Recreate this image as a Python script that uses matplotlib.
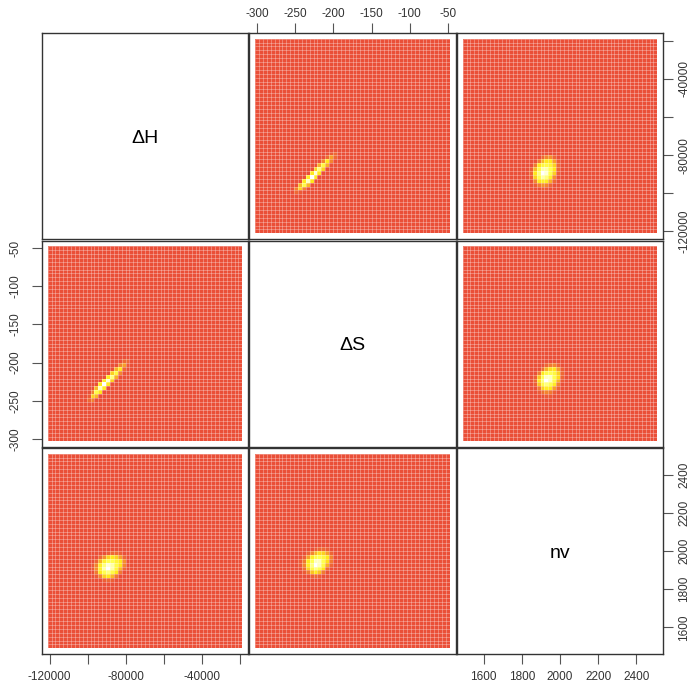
import numpy as np
import matplotlib.pyplot as plt
from matplotlib.colors import LinearSegmentedColormap

plt.rcParams['font.family'] = ['Liberation Sans', 'DejaVu Sans']

names = ['ΔH', 'ΔS', 'nv']
ranges = [[-120000, -20000], [-300, -50], [1500, 2500]]
n_cells = 50

ticks = [[-120000, -100000, -80000, -60000, -40000, -20000],
         [-300, -250, -200, -150, -100, -50],
         [1600, 1800, 2000, 2200, 2400]]
tick_labels = [['-120000', '', '-80000', '', '-40000', ''],
               ['-300', '-250', '-200', '-150', '-100', '-50'],
               ['1600', '1800', '2000', '2200', '2400']]

# density blobs, rows listed from top to bottom
blob_dS_dH = [
    [0, 0, 0, 0, 0, 0, 0, 0, 0, 0.02, 0.05],
    [0, 0, 0, 0, 0, 0, 0, 0, 0.05, 0.15, 0.05],
    [0, 0, 0, 0, 0, 0, 0, 0.1, 0.3, 0.1, 0],
    [0, 0, 0, 0, 0, 0, 0.18, 0.5, 0.18, 0, 0],
    [0, 0, 0, 0, 0, 0.25, 0.7, 0.25, 0, 0, 0],
    [0, 0, 0, 0, 0.32, 0.9, 0.32, 0, 0, 0, 0],
    [0, 0, 0, 0.35, 1.0, 0.35, 0, 0, 0, 0, 0],
    [0, 0, 0.3, 0.85, 0.3, 0, 0, 0, 0, 0, 0],
    [0, 0.2, 0.55, 0.2, 0, 0, 0, 0, 0, 0, 0],
    [0.09, 0.25, 0.09, 0, 0, 0, 0, 0, 0, 0, 0],
    [0.05, 0.02, 0, 0, 0, 0, 0, 0, 0, 0, 0],
]
blob_nv_dH = [
    [0, 0, 0, 0.05, 0.1, 0.12, 0.05, 0, 0],
    [0, 0, 0.08, 0.2, 0.3, 0.3, 0.15, 0.03, 0],
    [0, 0.08, 0.3, 0.5, 0.55, 0.45, 0.25, 0.05, 0],
    [0.03, 0.2, 0.55, 0.8, 0.8, 0.6, 0.3, 0.05, 0],
    [0.05, 0.3, 0.7, 1.0, 0.9, 0.6, 0.25, 0.03, 0],
    [0.03, 0.25, 0.6, 0.8, 0.7, 0.4, 0.12, 0, 0],
    [0, 0.1, 0.3, 0.4, 0.35, 0.18, 0.05, 0, 0],
    [0, 0.02, 0.08, 0.12, 0.1, 0.04, 0, 0, 0],
    [0, 0, 0, 0.02, 0.02, 0, 0, 0, 0],
]
blob_nv_dS = [
    [0, 0, 0, 0.04, 0.08, 0.1, 0.04, 0, 0],
    [0, 0, 0.06, 0.18, 0.28, 0.3, 0.15, 0.03, 0],
    [0, 0.08, 0.3, 0.55, 0.6, 0.5, 0.25, 0.05, 0],
    [0.03, 0.22, 0.6, 0.85, 0.85, 0.6, 0.28, 0.04, 0],
    [0.05, 0.3, 0.7, 1.0, 0.85, 0.55, 0.2, 0.02, 0],
    [0.03, 0.22, 0.55, 0.7, 0.6, 0.35, 0.1, 0, 0],
    [0, 0.08, 0.25, 0.35, 0.3, 0.15, 0.04, 0, 0],
    [0, 0.02, 0.06, 0.1, 0.08, 0.03, 0, 0, 0],
    [0, 0, 0, 0.02, 0.02, 0, 0, 0, 0],
]
# (top row cell, first column cell) of each blob
blob_pos = {'dS_dH': (20, 10), 'nv_dH': (19, 17), 'nv_dS': (19, 18)}


def make_grid(blob, top, left):
    z = np.zeros((n_cells, n_cells))
    for r, row in enumerate(blob):
        z[top - r, left:left + len(row)] = row
    return z


z_A = make_grid(blob_dS_dH, *blob_pos['dS_dH'])
z_B = make_grid(blob_nv_dH, *blob_pos['nv_dH'])
z_C = make_grid(blob_nv_dS, *blob_pos['nv_dS'])
dens = {(0, 1): z_A, (1, 0): z_A.T,
        (0, 2): z_B, (2, 0): z_B.T,
        (1, 2): z_C, (2, 1): z_C.T}

cmap = LinearSegmentedColormap.from_list(
    'heat', [(0, '#EA4F38'), (0.12, '#F5902C'), (0.3, '#FFE81A'),
             (0.6, '#FFFF50'), (1, '#FFFFFF')])

W, H = 695, 684
fig = plt.figure(figsize=(W / 100, H / 100), dpi=100)
col_left = [42, 249.5, 457]
row_top = [33, 240.5, 448]
size = 206

for p in range(3):
    for q in range(3):
        ax = fig.add_axes([col_left[q] / W, (H - row_top[p] - size) / H,
                           size / W, size / H])
        xr, yr = ranges[q], ranges[p]
        pad_x = 0.04 * (xr[1] - xr[0])
        pad_y = 0.04 * (yr[1] - yr[0])
        ax.set_xlim(xr[0] - pad_x, xr[1] + pad_x)
        ax.set_ylim(yr[0] - pad_y, yr[1] + pad_y)
        for s in ax.spines.values():
            s.set_color('#333333')
            s.set_linewidth(1.0)
        ax.tick_params(length=7, width=0.8, color='#555555',
                       labelsize=8.5, labelcolor='#333333')
        if p == q:
            ax.text(0.5, 0.49, names[p], transform=ax.transAxes,
                    ha='center', va='center', fontsize=14)
        else:
            xc = np.linspace(xr[0], xr[1], n_cells)
            yc = np.linspace(yr[0], yr[1], n_cells)
            ax.pcolormesh(xc, yc, dens[(p, q)], cmap=cmap, vmin=0, vmax=1,
                          shading='nearest', edgecolors='none')
            dx = xc[1] - xc[0]
            dy = yc[1] - yc[0]
            xe = np.append(xc - dx / 2, xc[-1] + dx / 2)
            ye = np.append(yc - dy / 2, yc[-1] + dy / 2)
            ax.vlines(xe, ye[0], ye[-1], colors='white', alpha=0.3,
                      linewidth=0.7)
            ax.hlines(ye, xe[0], xe[-1], colors='white', alpha=0.3,
                      linewidth=0.7)
        ax.set_xticks([])
        ax.set_yticks([])
        # x axes: bottom for columns 0 and 2, top for column 1
        if p == 2 and q in (0, 2):
            ax.set_xticks(ticks[q])
            ax.set_xticklabels(tick_labels[q])
            ax.tick_params(axis='x', pad=5)
        if p == 0 and q == 1:
            ax.xaxis.tick_top()
            ax.set_xticks(ticks[q])
            ax.set_xticklabels(tick_labels[q])
            ax.tick_params(axis='x', pad=2.5)
        # y axes: left for row 1, right for rows 0 and 2
        if q == 0 and p == 1:
            ax.set_yticks(ticks[p])
            ax.set_yticklabels(tick_labels[p], rotation=90, va='center')
            ax.tick_params(axis='y', pad=8)
        if q == 2 and p in (0, 2):
            ax.yaxis.tick_right()
            ax.set_yticks(ticks[p])
            ax.set_yticklabels(tick_labels[p], rotation=90, va='center')
            ax.tick_params(axis='y', pad=4)

fig.savefig('out.png', dpi=100)
